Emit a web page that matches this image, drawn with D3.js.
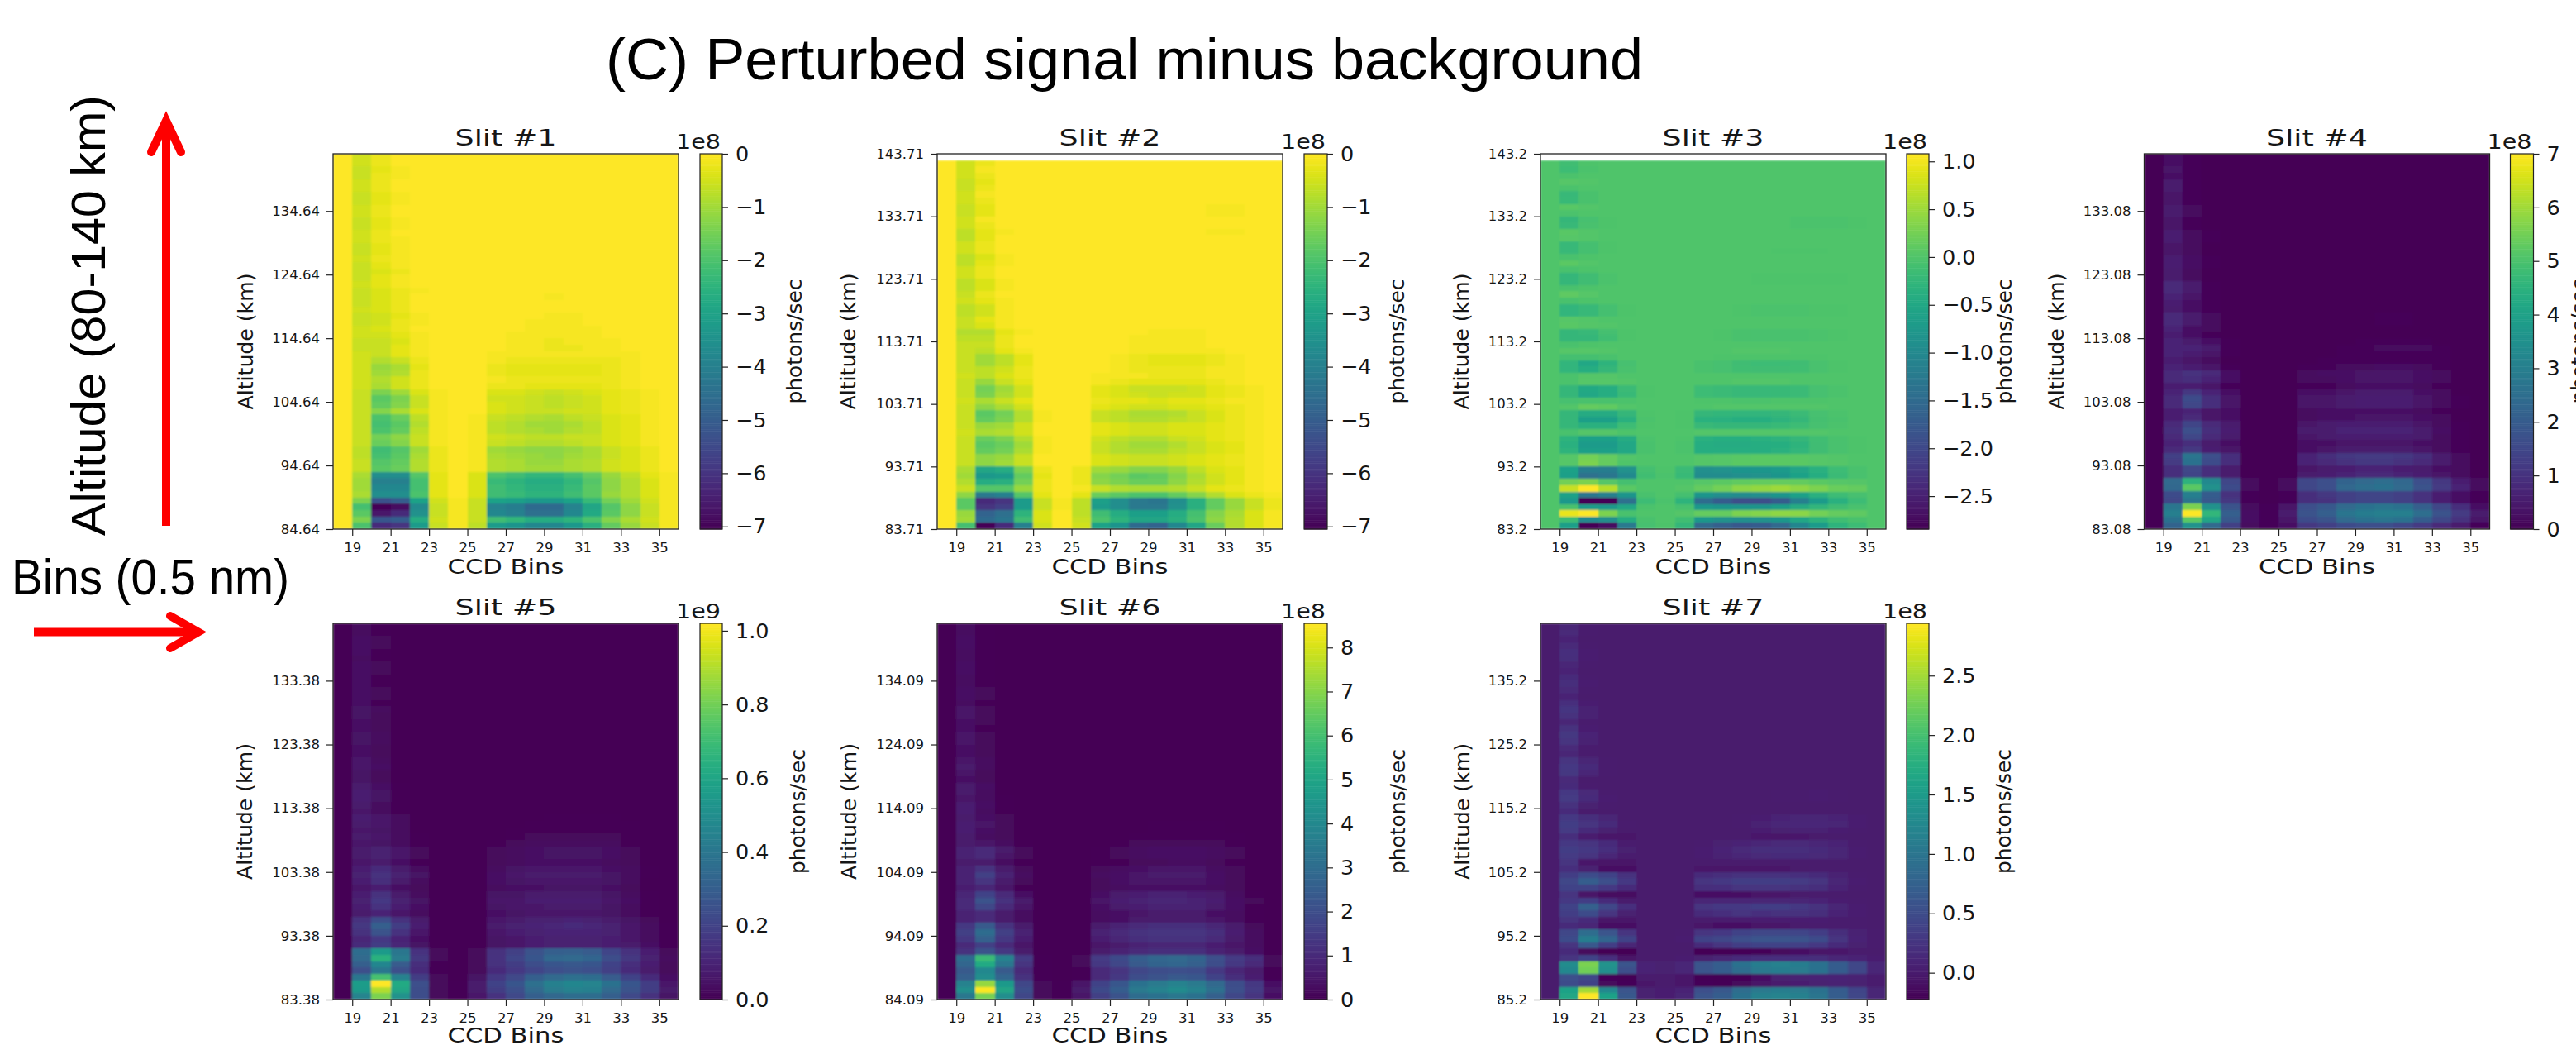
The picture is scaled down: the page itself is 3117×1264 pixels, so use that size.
<!DOCTYPE html>
<html>
<head>
<meta charset="utf-8">
<title>Perturbed signal minus background</title>
<script src="https://d3js.org/d3.v7.min.js"></script>
<style>
  body { margin: 0; background: #fff; }
  text { font-family: "DejaVu Sans", sans-serif; fill: #161616; }
</style>
</head>
<body>
<svg id="chart" width="3117" height="1264"></svg>
<script>

// CCD bins: one column per bin, left edge of each cell
let bins = d3.range(18, 36);
let binTicks = [19, 21, 23, 25, 27, 29, 31, 33, 35];

let slitTitles = ['Slit #1', 'Slit #2', 'Slit #3', 'Slit #4', 'Slit #5', 'Slit #6', 'Slit #7'];
let altitudeBottoms = [84.64, 83.71, 83.2, 83.08, 83.38, 84.09, 85.2];
let altitudeTops = [143.64, 143.71, 143.2, 142.08, 142.38, 143.09, 144.2];
let altitudeLabels = [
  ['84.64', '94.64', '104.64', '114.64', '124.64', '134.64'],
  ['83.71', '93.71', '103.71', '113.71', '123.71', '133.71', '143.71'],
  ['83.2', '93.2', '103.2', '113.2', '123.2', '133.2', '143.2'],
  ['83.08', '93.08', '103.08', '113.08', '123.08', '133.08'],
  ['83.38', '93.38', '103.38', '113.38', '123.38', '133.38'],
  ['84.09', '94.09', '104.09', '114.09', '124.09', '134.09'],
  ['85.2', '95.2', '105.2', '115.2', '125.2', '135.2']
];

// colorbar limits and ticks, in the unit printed over the bar
let colorMins = [-7.05, -7.05, -2.845, 0, 0, 0, -0.225];
let colorMaxs = [0, 0, 1.08, 7, 1.02, 8.55, 2.94];
let colorTicks = [
  [0, -1, -2, -3, -4, -5, -6, -7],
  [0, -1, -2, -3, -4, -5, -6, -7],
  [1, 0.5, 0, -0.5, -1, -1.5, -2, -2.5],
  [7, 6, 5, 4, 3, 2, 1, 0],
  [1, 0.8, 0.6, 0.4, 0.2, 0],
  [8, 7, 6, 5, 4, 3, 2, 1, 0],
  [2.5, 2, 1.5, 1, 0.5, 0]
];
let tickDigits = [0, 0, 1, 0, 1, 0, 1];
let colorExponents = ['1e8', '1e8', '1e8', '1e8', '1e9', '1e8', '1e8'];
// the rows below are stored in these fractions of the colorbar unit
let rowUnits = [0.1, 0.1, 0.01, 0.1, 0.01, 0.1, 0.01];

// rows run from the lowest altitude up, columns are bins 18..35
let slit1 = [
[0,-20,-62,-60,-32,-6,-1,-7,-32,-34,-38,-38,-33,-26,-17,-11,-6,-1],
[0,-14,-52,-50,-27,-5,-1,-6,-22,-24,-27,-27,-25,-20,-13,-9,-5,-1],
[0,-18,-66,-62,-35,-6,-1,-6,-38,-40,-45,-45,-38,-28,-18,-12,-6,-1],
[0,-21,-70,-68,-37,-6,-1,-6,-39,-41,-46,-46,-39,-29,-19,-12,-6,-1],
[0,-14,-53,-50,-30,-5,-1,-6,-30,-31,-33,-33,-30,-23,-15,-10,-5,-1],
[0,-9,-36,-36,-20,-3,0,-4,-22,-23,-25,-25,-22,-18,-11,-8,-4,-1],
[0,-10,-38,-38,-21,-3,0,-4,-22,-24,-26,-26,-23,-18,-12,-8,-4,-1],
[0,-10,-40,-40,-21,-3,0,-4,-23,-25,-27,-27,-24,-19,-12,-8,-4,-1],
[0,-9,-36,-36,-19,-3,0,-4,-20,-22,-24,-24,-21,-17,-11,-7,-3,-1],
[0,-6,-18,-16,-8,-2,0,-1,-8,-9,-10,-10,-9,-8,-5,-4,-2,0],
[0,-6,-19,-17,-8,-2,0,-1,-8,-9,-11,-11,-9,-8,-5,-4,-2,0],
[0,-7,-21,-18,-9,-2,0,-1,-9,-10,-11,-12,-10,-9,-6,-4,-2,0],
[0,-7,-22,-19,-10,-2,0,-1,-10,-11,-12,-12,-11,-9,-6,-4,-2,0],
[0,-6,-16,-13,-6,-1,0,-1,-6,-7,-8,-8,-7,-6,-4,-3,-1,0],
[0,-6,-15,-12,-6,-1,0,-1,-5,-6,-7,-7,-6,-6,-4,-3,-1,0],
[0,-6,-20,-17,-7,-1,0,-1,-7,-8,-9,-10,-8,-7,-4,-3,-1,0],
[0,-6,-21,-18,-8,-1,0,-1,-7,-8,-10,-10,-9,-7,-4,-3,-1,0],
[0,-6,-20,-16,-7,-1,0,-1,-6,-7,-8,-9,-7,-6,-4,-3,-1,0],
[0,-6,-13,-9,-4,-1,0,0,-4,-5,-6,-6,-5,-5,-3,-2,-1,0],
[0,-6,-17,-13,-6,-1,0,0,-4,-5,-6,-7,-6,-5,-3,-2,-1,0],
[0,-6,-18,-14,-6,-1,0,0,-5,-5,-6,-7,-6,-5,-3,-2,-1,0],
[0,-6,-14,-10,-4,-1,0,0,-4,-4,-5,-6,-5,-4,-3,-2,-1,0],
[0,-5,-9,-5,-2,0,0,0,-2,-2,-3,-3,-3,-3,-2,-1,0,0],
[0,-5,-8,-5,-2,0,0,0,-1,-2,-2,-2,-2,-2,-2,-1,0,0],
[0,-5,-10,-8,-2,0,0,0,-2,-3,-3,-3,-3,-3,-2,-1,0,0],
[0,-5,-11,-9,-3,0,0,0,-2,-3,-3,-3,-3,-3,-2,-1,0,0],
[0,-5,-8,-6,-2,0,0,0,-1,-2,-2,-2,-2,-2,-2,-1,0,0],
[0,-5,-6,-3,-1,0,0,0,-1,-1,-1,-1,-1,-1,-1,-1,0,0],
[0,-6,-6,-3,-1,0,0,0,0,-1,-1,-2,-2,-1,-1,0,0,0],
[0,-6,-6,-4,-1,0,0,0,0,-1,-1,-2,-1,-1,-1,0,0,0],
[0,-5,-5,-3,-1,0,0,0,0,-1,-1,-1,-1,-1,0,0,0,0],
[0,-5,-4,-2,0,0,0,0,0,0,-1,-1,-1,-1,0,0,0,0],
[0,-6,-5,-2,-1,0,0,0,0,0,-1,-1,-1,0,0,0,0,0],
[0,-6,-5,-3,-1,0,0,0,0,0,0,-1,-1,0,0,0,0,0],
[0,-5,-4,-2,0,0,0,0,0,0,0,0,0,0,0,0,0,0],
[0,-6,-4,-2,0,0,0,0,0,0,0,0,0,0,0,0,0,0],
[0,-6,-4,-2,0,0,0,0,0,0,0,-1,0,0,0,0,0,0],
[0,-6,-4,-2,-1,0,0,0,0,0,0,0,0,0,0,0,0,0],
[0,-5,-3,-1,0,0,0,0,0,0,0,0,0,0,0,0,0,0],
[0,-6,-3,-1,0,0,0,0,0,0,0,0,0,0,0,0,0,0],
[0,-6,-4,-2,0,0,0,0,0,0,0,0,0,0,0,0,0,0],
[0,-6,-3,-1,0,0,0,0,0,0,0,0,0,0,0,0,0,0],
[0,-5,-2,-1,0,0,0,0,0,0,0,0,0,0,0,0,0,0],
[0,-6,-3,-1,0,0,0,0,0,0,0,0,0,0,0,0,0,0],
[0,-6,-3,-1,0,0,0,0,0,0,0,0,0,0,0,0,0,0],
[0,-5,-2,-1,0,0,0,0,0,0,0,0,0,0,0,0,0,0],
[0,-5,-2,0,0,0,0,0,0,0,0,0,0,0,0,0,0,0],
[0,-6,-3,-1,0,0,0,0,0,0,0,0,0,0,0,0,0,0],
[0,-6,-3,-1,0,0,0,0,0,0,0,0,0,0,0,0,0,0],
[0,-5,-2,0,0,0,0,0,0,0,0,0,0,0,0,0,0,0],
[0,-5,-2,0,0,0,0,0,0,0,0,0,0,0,0,0,0,0],
[0,-6,-3,-1,0,0,0,0,0,0,0,0,0,0,0,0,0,0],
[0,-6,-3,-1,0,0,0,0,0,0,0,0,0,0,0,0,0,0],
[0,-5,-2,0,0,0,0,0,0,0,0,0,0,0,0,0,0,0],
[0,-5,-2,0,0,0,0,0,0,0,0,0,0,0,0,0,0,0],
[0,-6,-2,-1,0,0,0,0,0,0,0,0,0,0,0,0,0,0],
[0,-6,-3,-1,0,0,0,0,0,0,0,0,0,0,0,0,0,0],
[0,-5,-2,0,0,0,0,0,0,0,0,0,0,0,0,0,0,0],
[0,-5,-2,0,0,0,0,0,0,0,0,0,0,0,0,0,0,0]
];

let slit2 = [
[0,-21,-70,-62,-40,-5,0,-5,-30,-34,-46,-48,-38,-29,-16,-8,-4,-1],
[0,-10,-46,-43,-22,-4,0,-6,-20,-25,-29,-29,-26,-20,-12,-8,-4,-1],
[0,-11,-48,-45,-25,-4,0,-7,-22,-27,-31,-31,-27,-21,-13,-9,-4,-1],
[0,-18,-60,-57,-32,-6,-1,-7,-32,-36,-42,-42,-35,-26,-17,-11,-6,-2],
[0,-18,-62,-60,-32,-6,-1,-7,-31,-36,-42,-43,-36,-26,-17,-11,-6,-2],
[0,-12,-42,-40,-19,-3,0,-3,-16,-18,-20,-20,-17,-13,-8,-4,-2,-1],
[0,-6,-19,-19,-11,-2,0,-1,-6,-8,-9,-9,-8,-6,-3,-2,-1,0],
[0,-8,-27,-26,-15,-2,0,-2,-12,-14,-16,-16,-12,-8,-5,-3,-1,0],
[0,-10,-33,-32,-17,-3,0,-2,-13,-15,-18,-17,-13,-9,-5,-3,-1,0],
[0,-9,-29,-27,-14,-2,0,-2,-10,-11,-13,-13,-11,-7,-4,-3,-1,0],
[0,-6,-12,-10,-6,0,0,0,-4,-5,-6,-6,-5,-4,-3,-2,-1,0],
[0,-6,-12,-11,-6,0,0,0,-4,-5,-6,-6,-5,-4,-3,-2,-1,0],
[0,-6,-17,-15,-9,-1,0,0,-6,-8,-9,-9,-7,-6,-4,-3,-1,0],
[0,-6,-18,-16,-10,-1,0,0,-6,-8,-10,-10,-8,-6,-4,-3,-1,0],
[0,-6,-16,-14,-8,-1,0,0,-5,-7,-8,-8,-6,-5,-3,-2,-1,0],
[0,-5,-9,-8,-5,0,0,0,-3,-4,-5,-5,-4,-4,-3,-2,-1,0],
[0,-6,-11,-10,-5,0,0,0,-3,-4,-5,-5,-4,-4,-3,-2,-1,0],
[0,-6,-17,-14,-8,-1,0,0,-6,-7,-8,-8,-7,-6,-4,-2,-1,0],
[0,-6,-18,-15,-8,-1,0,0,-6,-7,-9,-9,-8,-6,-4,-2,-1,0],
[0,-6,-12,-9,-5,0,0,0,-3,-4,-5,-5,-4,-4,-3,-2,-1,0],
[0,-5,-9,-6,-3,0,0,0,-2,-3,-3,-4,-3,-3,-2,-1,-1,0],
[0,-6,-14,-9,-5,0,0,0,-3,-4,-5,-6,-5,-5,-3,-2,-1,0],
[0,-6,-15,-10,-5,0,0,0,-3,-4,-6,-6,-6,-5,-3,-2,-1,0],
[0,-6,-11,-6,-3,0,0,0,-1,-2,-3,-3,-3,-3,-2,-1,0,0],
[0,-5,-7,-4,-2,0,0,0,-1,-1,-1,-2,-2,-2,-1,-1,0,0],
[0,-6,-7,-5,-2,0,0,0,0,-1,-2,-2,-2,-2,-1,-1,0,0],
[0,-6,-10,-7,-3,0,0,0,0,-1,-2,-3,-3,-3,-2,-1,0,0],
[0,-6,-10,-7,-3,0,0,0,0,-1,-2,-3,-3,-3,-2,-1,0,0],
[0,-6,-7,-3,-1,0,0,0,0,0,-1,-1,-1,-1,-1,0,0,0],
[0,-6,-6,-2,0,0,0,0,0,0,-1,-1,-1,-1,0,0,0,0],
[0,-7,-7,-2,0,0,0,0,0,0,-1,-1,-1,-1,0,0,0,0],
[0,-8,-8,-3,-1,0,0,0,0,0,0,-1,-1,-1,0,0,0,0],
[0,-6,-4,-1,0,0,0,0,0,0,0,0,0,0,0,0,0,0],
[0,-6,-3,-1,0,0,0,0,0,0,0,0,0,0,0,0,0,0],
[0,-7,-5,-1,0,0,0,0,0,0,0,0,0,0,0,0,0,0],
[0,-7,-5,-1,0,0,0,0,0,0,0,0,0,0,0,0,0,0],
[0,-5,-3,-1,0,0,0,0,0,0,0,0,0,0,0,0,0,0],
[0,-6,-2,0,0,0,0,0,0,0,0,0,0,0,0,0,0,0],
[0,-7,-4,-1,0,0,0,0,0,0,0,0,0,0,0,0,0,0],
[0,-7,-4,-1,0,0,0,0,0,0,0,0,0,0,0,0,0,0],
[0,-5,-2,0,0,0,0,0,0,0,0,0,0,0,0,0,0,0],
[0,-5,-2,0,0,0,0,0,0,0,0,0,0,0,0,0,0,0],
[0,-7,-3,-1,0,0,0,0,0,0,0,0,0,0,0,0,0,0],
[0,-7,-4,-1,0,0,0,0,0,0,0,0,0,0,0,0,0,0],
[0,-5,-2,0,0,0,0,0,0,0,0,0,0,0,0,0,0,0],
[0,-5,-2,0,0,0,0,0,0,0,0,0,0,0,0,0,0,0],
[0,-7,-3,0,0,0,0,0,0,0,0,0,0,0,0,0,0,0],
[0,-7,-3,-1,0,0,0,0,0,0,0,0,0,0,-1,-1,0,0],
[0,-5,-2,0,0,0,0,0,0,0,0,0,0,0,0,0,0,0],
[0,-5,-1,0,0,0,0,0,0,0,0,0,0,0,0,0,0,0],
[0,-6,-3,0,0,0,0,0,0,0,0,0,0,0,-1,-1,0,0],
[0,-6,-3,0,0,0,0,0,0,0,0,0,0,0,-1,-1,0,0],
[0,-5,-2,0,0,0,0,0,0,0,0,0,0,0,0,0,0,0],
[0,-5,-1,0,0,0,0,0,0,0,0,0,0,0,0,0,0,0],
[0,-6,-2,0,0,0,0,0,0,0,0,0,0,0,0,0,0,0],
[0,-6,-3,0,0,0,0,0,0,0,0,0,0,0,0,0,0,0],
[0,-5,-2,0,0,0,0,0,0,0,0,0,0,0,0,0,0,0],
[0,-5,-1,0,0,0,0,0,0,0,0,0,0,0,0,0,0,0],
[0,-5,-2,0,0,0,0,0,0,0,0,0,0,0,0,0,0,0]
];

let slit3 = [
[0,-65,-285,-270,-125,-8,-2,-25,-150,-165,-178,-172,-150,-105,-70,-30,-15,0],
[0,-15,-100,-90,-40,-4,0,-12,-75,-85,-90,-85,-75,-50,-30,-12,-5,0],
[0,95,108,30,-5,0,0,3,15,15,30,35,42,40,25,15,10,0],
[0,-5,-70,-75,-50,-3,0,-8,-75,-80,-80,-80,-65,-45,-28,-14,-6,0],
[0,-75,-280,-280,-140,-15,-3,-30,-145,-170,-190,-190,-170,-115,-70,-35,-15,0],
[0,-60,-130,-115,-80,-5,0,-10,-80,-90,-95,-90,-80,-60,-35,-15,-8,0],
[0,75,108,65,8,0,0,3,15,25,40,45,50,42,30,18,15,0],
[0,25,30,5,-10,0,0,0,5,8,12,14,15,14,8,5,3,0],
[0,-65,-140,-130,-100,-12,-3,-20,-95,-95,-90,-85,-80,-60,-40,-18,-6,0],
[0,-60,-120,-120,-85,-10,-2,-18,-90,-85,-82,-78,-72,-55,-35,-15,-5,0],
[0,5,30,15,0,0,0,0,3,5,7,8,8,7,5,3,0,0],
[0,5,25,15,2,0,0,0,3,4,6,7,7,6,4,2,0,0],
[0,-30,-65,-65,-50,-4,0,-3,-40,-42,-42,-40,-36,-28,-14,-6,-2,0],
[0,-35,-70,-70,-50,-4,0,-3,-42,-45,-44,-42,-38,-30,-14,-6,-2,0],
[0,-30,-60,-60,-45,-3,0,-2,-36,-38,-38,-36,-32,-25,-12,-5,-1,0],
[0,-5,3,3,-2,0,0,0,1,2,2,2,2,2,1,0,0,0],
[0,-25,-35,-35,-15,-2,0,-1,-22,-24,-24,-24,-20,-16,-8,-3,0,0],
[0,-25,-65,-65,-35,-3,0,-1,-34,-36,-38,-38,-32,-24,-10,-4,0,0],
[0,-25,-45,-45,-25,-2,0,-1,-25,-26,-28,-28,-24,-18,-8,-3,0,0],
[0,2,15,12,2,0,0,0,0,1,2,2,2,1,1,0,0,0],
[0,-8,-5,-5,-3,0,0,0,-2,-2,-3,-3,-2,-2,-1,0,0,0],
[0,-25,-50,-42,-20,-1,0,0,-16,-18,-22,-22,-20,-18,-8,-3,0,0],
[0,-25,-48,-42,-18,-1,0,0,-16,-18,-22,-22,-20,-18,-8,-3,0,0],
[0,-3,5,5,1,0,0,0,0,0,1,1,1,0,0,0,0,0],
[0,-3,3,3,0,0,0,0,0,0,0,0,0,0,0,0,0,0],
[0,-28,-42,-25,-6,0,0,0,-4,-8,-12,-14,-14,-12,-6,-2,0,0],
[0,-28,-50,-30,-8,0,0,0,-4,-8,-14,-16,-16,-14,-6,-2,0,0],
[0,-10,-10,-5,0,0,0,0,0,-1,-2,-2,-2,-2,-1,0,0,0],
[0,4,5,2,0,0,0,0,0,0,1,1,1,0,0,0,0,0],
[0,-5,-2,0,0,0,0,0,0,0,0,0,0,0,0,0,0,0],
[0,-24,-25,-12,-2,0,0,0,0,-2,-4,-6,-6,-5,-3,-1,0,0],
[0,-24,-22,-10,-1,0,0,0,0,-2,-4,-6,-6,-5,-3,-1,0,0],
[0,6,3,1,0,0,0,0,0,0,0,0,0,0,0,0,0,0],
[0,4,2,0,0,0,0,0,0,0,0,0,0,0,0,0,0,0],
[0,-28,-22,-10,-1,0,0,0,0,0,-2,-3,-3,-3,-2,-1,0,0],
[0,-28,-22,-10,-1,0,0,0,0,0,-2,-3,-3,-3,-2,-1,0,0],
[0,-5,-2,0,0,0,0,0,0,0,0,0,0,0,0,0,0,0],
[0,10,4,0,0,0,0,0,0,0,0,0,0,0,0,0,0,0],
[0,-5,-2,0,0,0,0,0,0,0,0,0,0,0,0,0,0,0],
[0,-25,-14,-3,0,0,0,0,0,0,0,-2,-2,-2,-2,-1,0,0],
[0,-25,-14,-3,0,0,0,0,0,0,0,-2,-2,-2,-2,-1,0,0],
[0,-4,-1,0,0,0,0,0,0,0,0,0,0,0,0,0,0,0],
[0,8,2,0,0,0,0,0,0,0,0,0,0,0,0,0,0,0],
[0,-5,-2,0,0,0,0,0,0,0,0,0,0,0,0,0,0,0],
[0,-22,-10,-2,0,0,0,0,0,0,0,0,-1,-1,-1,0,0,0],
[0,-22,-9,-2,0,0,0,0,0,0,0,0,0,0,0,0,0,0],
[0,5,1,0,0,0,0,0,0,0,0,0,0,0,0,0,0,0],
[0,6,2,0,0,0,0,0,0,0,0,0,0,0,0,0,0,0],
[0,-22,-6,-1,0,0,0,0,0,0,0,0,0,-3,-3,-3,-1,0],
[0,-24,-7,-1,0,0,0,0,0,0,0,0,0,-3,-3,-3,-1,0],
[0,-3,0,0,0,0,0,0,0,0,0,0,0,0,0,0,0,0],
[0,6,1,0,0,0,0,0,0,0,0,0,0,0,0,0,0,0],
[0,-20,-5,0,0,0,0,0,0,0,0,0,0,0,0,0,0,0],
[0,-22,-5,0,0,0,0,0,0,0,0,0,0,0,0,0,0,0],
[0,-3,0,0,0,0,0,0,0,0,0,0,0,0,0,0,0,0],
[0,5,1,0,0,0,0,0,0,0,0,0,0,0,0,0,0,0],
[0,-3,0,0,0,0,0,0,0,0,0,0,0,0,0,0,0,0],
[0,-15,-3,0,0,0,0,0,0,0,0,0,0,0,0,0,0,0],
[0,-12,-2,0,0,0,0,0,0,0,0,0,0,0,0,0,0,0]
];

let slit4 = [
[0,22,36,24,13,2,1,3,11,13,16,17,17,15,12,8,5,1],
[0,26,52,41,19,3,1,4,16,18,24,26,27,26,20,15,10,4],
[0,30,70,46,21,3,1,5,18,21,27,29,30,30,25,18,12,5],
[0,27,56,35,18,2,1,4,17,19,24,26,27,26,21,15,9,3],
[0,15,27,19,11,1,0,1,9,10,13,14,14,13,10,6,3,1],
[0,16,30,20,10,1,0,1,9,11,13,14,14,13,10,6,3,1],
[0,23,52,35,16,2,0,2,15,17,23,25,26,24,18,12,7,2],
[0,24,45,33,15,2,0,2,15,17,22,24,25,23,17,11,6,2],
[0,9,14,9,5,0,0,0,5,6,7,8,8,7,6,4,2,0],
[0,9,15,9,5,0,0,0,4,5,6,7,7,6,5,3,2,0],
[0,12,26,16,9,0,0,0,7,8,10,11,11,10,8,5,2,0],
[0,13,27,17,9,0,0,0,7,9,11,12,12,11,9,5,2,0],
[0,8,11,6,4,0,0,0,3,4,5,5,5,5,4,2,1,0],
[0,7,9,5,3,0,0,0,3,3,4,4,4,4,3,2,1,0],
[0,8,15,8,5,0,0,0,4,5,6,6,6,6,5,2,1,0],
[0,9,17,9,6,0,0,0,5,5,7,7,7,7,5,3,1,0],
[0,8,14,8,5,0,0,0,4,5,6,6,6,6,4,2,1,0],
[0,6,8,4,3,0,0,0,2,3,3,4,4,4,3,2,0,0],
[0,6,7,4,3,0,0,0,2,3,3,3,3,3,2,1,0,0],
[0,8,15,9,4,0,0,0,4,4,5,6,6,6,4,2,1,0],
[0,8,16,9,4,0,0,0,4,4,5,6,6,6,4,2,1,0],
[0,7,11,7,3,0,0,0,3,3,4,5,5,5,3,2,0,0],
[0,6,6,4,1,0,0,0,1,1,2,3,3,3,2,1,0,0],
[0,8,9,7,3,0,0,0,2,2,3,4,4,4,3,2,0,0],
[0,8,10,8,3,0,0,0,2,3,3,4,4,4,3,2,0,0],
[0,7,6,4,1,0,0,0,1,1,2,2,3,3,2,1,0,0],
[0,6,4,2,0,0,0,0,0,1,1,1,1,1,1,1,0,0],
[0,7,6,4,1,0,0,0,0,0,1,1,1,1,1,1,0,0],
[0,7,7,5,1,0,0,0,0,0,1,1,2,2,2,1,0,0],
[0,7,5,3,1,0,0,0,0,0,0,1,1,1,1,0,0,0],
[0,6,3,1,0,0,0,0,0,0,0,0,0,0,0,0,0,0],
[0,7,3,2,0,0,0,0,0,0,0,0,0,0,0,0,0,0],
[0,8,5,2,0,0,0,0,0,0,0,0,1,1,0,0,0,0],
[0,8,5,2,0,0,0,0,0,0,0,0,1,1,0,0,0,0],
[0,5,3,1,0,0,0,0,0,0,0,0,0,0,0,0,0,0],
[0,6,3,1,0,0,0,0,0,0,0,0,0,0,0,0,0,0],
[0,7,4,1,0,0,0,0,0,0,0,0,0,0,0,0,0,0],
[0,8,5,1,0,0,0,0,0,0,0,0,0,0,0,0,0,0],
[0,8,5,1,0,0,0,0,0,0,0,0,0,0,0,0,0,0],
[0,5,2,0,0,0,0,0,0,0,0,0,0,0,0,0,0,0],
[0,5,2,0,0,0,0,0,0,0,0,0,0,0,0,0,0,0],
[0,6,3,1,0,0,0,0,0,0,0,0,0,0,0,0,0,0],
[0,6,3,1,0,0,0,0,0,0,0,0,0,0,0,0,0,0],
[0,4,2,0,0,0,0,0,0,0,0,0,0,0,0,0,0,0],
[0,4,2,0,0,0,0,0,0,0,0,0,0,0,0,0,0,0],
[0,6,2,1,0,0,0,0,0,0,0,0,0,0,0,0,0,0],
[0,6,2,1,0,0,0,0,0,0,0,0,0,0,0,0,0,0],
[0,4,1,0,0,0,0,0,0,0,0,0,0,0,0,0,0,0],
[0,4,1,0,0,0,0,0,0,0,0,0,0,0,0,0,0,0],
[0,5,2,0,0,0,0,0,0,0,0,0,0,0,0,0,0,0],
[0,5,2,0,0,0,0,0,0,0,0,0,0,0,0,0,0,0],
[0,4,1,0,0,0,0,0,0,0,0,0,0,0,0,0,0,0],
[0,4,1,0,0,0,0,0,0,0,0,0,0,0,0,0,0,0],
[0,5,1,0,0,0,0,0,0,0,0,0,0,0,0,0,0,0],
[0,5,1,0,0,0,0,0,0,0,0,0,0,0,0,0,0,0],
[0,3,1,0,0,0,0,0,0,0,0,0,0,0,0,0,0,0],
[0,4,1,0,0,0,0,0,0,0,0,0,0,0,0,0,0,0],
[0,3,1,0,0,0,0,0,0,0,0,0,0,0,0,0,0,0],
[0,3,1,0,0,0,0,0,0,0,0,0,0,0,0,0,0,0]
];

let slit5 = [
[0,46,82,52,24,2,1,6,15,22,30,34,36,36,30,22,14,5],
[0,55,90,60,24,2,1,7,18,25,35,42,45,44,35,26,18,7],
[0,56,102,62,25,2,1,7,20,27,37,44,47,46,38,27,18,6],
[0,40,72,45,18,2,0,5,17,22,30,35,37,36,29,20,12,4],
[0,25,40,25,12,1,0,2,12,17,21,25,26,25,19,12,7,2],
[0,30,47,29,13,1,0,2,14,18,24,27,28,27,20,13,8,2],
[0,35,65,42,16,2,0,2,15,21,27,34,35,33,24,16,9,3],
[0,36,55,40,15,2,0,2,14,19,26,30,31,29,21,14,8,2],
[0,12,18,11,5,0,0,0,5,6,8,9,9,9,8,7,4,1],
[0,11,17,10,4,0,0,0,5,6,8,9,9,9,8,6,3,1],
[0,14,26,15,6,0,0,0,6,8,9,10,10,10,9,6,3,1],
[0,16,30,18,8,0,0,0,7,9,10,11,12,11,9,6,3,1],
[0,14,24,14,7,0,0,0,6,7,9,9,10,9,7,5,2,0],
[0,7,10,6,3,0,0,0,4,5,6,6,6,6,5,3,1,0],
[0,8,15,8,4,0,0,0,5,6,6,7,7,7,5,3,1,0],
[0,9,17,9,5,0,0,0,6,6,8,8,8,8,6,4,1,0],
[0,8,14,7,3,0,0,0,5,5,7,7,7,7,5,3,1,0],
[0,6,8,4,2,0,0,0,3,4,4,5,5,5,4,2,0,0],
[0,8,13,7,3,0,0,0,4,5,6,6,6,6,5,3,0,0],
[0,9,14,9,5,0,0,0,4,6,7,7,7,7,5,3,1,0],
[0,8,12,7,3,0,0,0,3,5,6,6,6,6,4,3,1,0],
[0,6,7,4,1,0,0,0,2,3,4,4,4,4,3,2,0,0],
[0,7,9,6,2,0,0,0,2,3,4,5,5,5,4,2,0,0],
[0,7,9,6,2,0,0,0,2,3,4,5,5,5,4,2,0,0],
[0,6,5,3,1,0,0,0,1,2,3,3,3,3,3,1,0,0],
[0,7,6,3,1,0,0,0,0,1,2,2,2,2,2,1,0,0],
[0,6,5,3,0,0,0,0,0,1,1,1,1,1,1,1,0,0],
[0,7,6,3,0,0,0,0,0,0,1,1,1,1,1,1,0,0],
[0,8,6,3,0,0,0,0,0,0,0,1,1,1,1,0,0,0],
[0,6,3,1,0,0,0,0,0,0,0,0,0,0,0,0,0,0],
[0,7,3,1,0,0,0,0,0,0,0,0,0,0,0,0,0,0],
[0,8,5,1,0,0,0,0,0,0,0,0,0,0,0,0,0,0],
[0,8,5,1,0,0,0,0,0,0,0,0,0,0,0,0,0,0],
[0,7,4,1,0,0,0,0,0,0,0,0,0,0,0,0,0,0],
[0,5,2,0,0,0,0,0,0,0,0,0,0,0,0,0,0,0],
[0,5,2,0,0,0,0,0,0,0,0,0,0,0,0,0,0,0],
[0,6,4,0,0,0,0,0,0,0,0,0,0,0,0,0,0,0],
[0,6,3,0,0,0,0,0,0,0,0,0,0,0,0,0,0,0],
[0,4,2,0,0,0,0,0,0,0,0,0,0,0,0,0,0,0],
[0,4,2,0,0,0,0,0,0,0,0,0,0,0,0,0,0,0],
[0,5,3,0,0,0,0,0,0,0,0,0,0,0,0,0,0,0],
[0,5,3,0,0,0,0,0,0,0,0,0,0,0,0,0,0,0],
[0,4,2,0,0,0,0,0,0,0,0,0,0,0,0,0,0,0],
[0,4,2,0,0,0,0,0,0,0,0,0,0,0,0,0,0,0],
[0,5,2,0,0,0,0,0,0,0,0,0,0,0,0,0,0,0],
[0,5,3,0,0,0,0,0,0,0,0,0,0,0,0,0,0,0],
[0,4,1,0,0,0,0,0,0,0,0,0,0,0,0,0,0,0],
[0,4,2,0,0,0,0,0,0,0,0,0,0,0,0,0,0,0],
[0,4,2,0,0,0,0,0,0,0,0,0,0,0,0,0,0,0],
[0,4,1,0,0,0,0,0,0,0,0,0,0,0,0,0,0,0],
[0,4,1,0,0,0,0,0,0,0,0,0,0,0,0,0,0,0],
[0,4,2,0,0,0,0,0,0,0,0,0,0,0,0,0,0,0],
[0,4,2,0,0,0,0,0,0,0,0,0,0,0,0,0,0,0],
[0,3,1,0,0,0,0,0,0,0,0,0,0,0,0,0,0,0],
[0,4,1,0,0,0,0,0,0,0,0,0,0,0,0,0,0,0],
[0,4,2,0,0,0,0,0,0,0,0,0,0,0,0,0,0,0],
[0,4,2,0,0,0,0,0,0,0,0,0,0,0,0,0,0,0],
[0,3,1,0,0,0,0,0,0,0,0,0,0,0,0,0,0,0],
[0,3,1,0,0,0,0,0,0,0,0,0,0,0,0,0,0,0]
];

let slit6 = [
[0,34,68,42,18,2,1,5,16,22,30,32,34,32,26,18,13,4],
[0,42,85,50,20,2,1,6,19,25,35,38,41,38,31,21,15,5],
[0,38,72,46,18,2,1,5,17,23,32,35,38,35,29,20,14,4],
[0,26,42,28,12,1,0,1,10,14,20,22,24,23,17,11,7,1],
[0,24,40,24,10,1,0,1,10,13,18,20,21,20,14,9,6,1],
[0,28,52,34,13,1,0,2,14,18,24,27,28,26,20,14,10,2],
[0,30,58,38,15,1,0,2,15,19,25,28,29,27,21,15,11,2],
[0,12,22,14,6,0,0,0,6,8,10,11,11,11,8,6,4,0],
[0,10,16,10,5,0,0,0,5,6,8,9,9,9,7,5,3,0],
[0,14,26,14,7,0,0,0,7,9,11,12,12,12,10,6,3,0],
[0,16,30,16,8,0,0,0,8,10,12,13,13,13,11,7,3,0],
[0,14,24,12,6,0,0,0,6,8,10,11,11,11,9,6,2,0],
[0,8,10,6,3,0,0,0,3,4,6,6,6,6,5,3,1,0],
[0,8,10,6,3,0,0,0,3,4,5,6,6,6,4,3,1,0],
[0,10,18,10,5,0,0,0,4,6,7,8,8,8,6,4,1,0],
[0,10,22,12,6,0,0,0,5,7,8,9,9,8,7,4,2,0],
[0,9,17,10,4,0,0,0,4,6,7,8,8,7,6,3,1,0],
[0,7,9,5,1,0,0,0,2,3,4,4,4,4,3,2,0,0],
[0,8,13,6,2,0,0,0,2,4,5,5,5,5,4,2,0,0],
[0,8,16,8,3,0,0,0,3,4,5,6,6,6,4,2,0,0],
[0,8,12,6,2,0,0,0,2,3,4,5,5,5,3,2,0,0],
[0,6,6,3,1,0,0,0,1,1,2,2,3,3,2,1,0,0],
[0,8,10,5,2,0,0,0,1,2,3,4,4,4,3,2,0,0],
[0,8,10,6,2,0,0,0,1,2,3,4,4,4,3,2,0,0],
[0,6,5,3,1,0,0,0,0,1,2,2,2,2,2,1,0,0],
[0,6,3,2,0,0,0,0,0,0,1,1,1,1,1,1,0,0],
[0,7,4,2,0,0,0,0,0,0,0,1,1,1,1,0,0,0],
[0,7,5,2,0,0,0,0,0,0,0,1,1,1,1,0,0,0],
[0,6,4,2,0,0,0,0,0,0,0,0,0,0,0,0,0,0],
[0,7,3,1,0,0,0,0,0,0,0,0,0,0,0,0,0,0],
[0,7,4,1,0,0,0,0,0,0,0,0,0,0,0,0,0,0],
[0,5,3,1,0,0,0,0,0,0,0,0,0,0,0,0,0,0],
[0,6,3,0,0,0,0,0,0,0,0,0,0,0,0,0,0,0],
[0,6,4,0,0,0,0,0,0,0,0,0,0,0,0,0,0,0],
[0,4,2,0,0,0,0,0,0,0,0,0,0,0,0,0,0,0],
[0,5,2,0,0,0,0,0,0,0,0,0,0,0,0,0,0,0],
[0,6,3,0,0,0,0,0,0,0,0,0,0,0,0,0,0,0],
[0,5,3,0,0,0,0,0,0,0,0,0,0,0,0,0,0,0],
[0,4,2,0,0,0,0,0,0,0,0,0,0,0,0,0,0,0],
[0,4,2,0,0,0,0,0,0,0,0,0,0,0,0,0,0,0],
[0,5,2,0,0,0,0,0,0,0,0,0,0,0,0,0,0,0],
[0,5,2,0,0,0,0,0,0,0,0,0,0,0,0,0,0,0],
[0,4,1,0,0,0,0,0,0,0,0,0,0,0,0,0,0,0],
[0,4,2,0,0,0,0,0,0,0,0,0,0,0,0,0,0,0],
[0,5,2,0,0,0,0,0,0,0,0,0,0,0,0,0,0,0],
[0,5,2,0,0,0,0,0,0,0,0,0,0,0,0,0,0,0],
[0,3,1,0,0,0,0,0,0,0,0,0,0,0,0,0,0,0],
[0,4,2,0,0,0,0,0,0,0,0,0,0,0,0,0,0,0],
[0,4,2,0,0,0,0,0,0,0,0,0,0,0,0,0,0,0],
[0,3,1,0,0,0,0,0,0,0,0,0,0,0,0,0,0,0],
[0,3,1,0,0,0,0,0,0,0,0,0,0,0,0,0,0,0],
[0,4,1,0,0,0,0,0,0,0,0,0,0,0,0,0,0,0],
[0,4,1,0,0,0,0,0,0,0,0,0,0,0,0,0,0,0],
[0,3,1,0,0,0,0,0,0,0,0,0,0,0,0,0,0,0],
[0,3,1,0,0,0,0,0,0,0,0,0,0,0,0,0,0,0],
[0,4,1,0,0,0,0,0,0,0,0,0,0,0,0,0,0,0],
[0,4,1,0,0,0,0,0,0,0,0,0,0,0,0,0,0,0],
[0,3,1,0,0,0,0,0,0,0,0,0,0,0,0,0,0,0],
[0,3,1,0,0,0,0,0,0,0,0,0,0,0,0,0,0,0]
];

let slit7 = [
[0,165,294,160,65,5,3,10,60,70,95,115,120,115,100,70,45,10],
[0,160,250,125,60,5,3,8,55,65,90,105,110,108,95,68,42,10],
[0,50,40,-15,-18,-3,0,-3,-18,-20,-15,-5,0,3,5,6,5,2],
[0,55,45,-18,-20,0,0,-3,-20,-22,-20,-8,5,7,8,8,6,2],
[0,125,225,135,55,8,5,12,60,70,90,105,110,108,95,68,45,12],
[0,130,230,140,60,8,5,12,60,70,95,110,115,110,95,68,45,12],
[0,25,40,20,-5,0,0,3,5,10,15,18,20,20,18,12,8,3],
[0,15,-15,-22,-22,0,0,0,-22,-22,-20,-18,-15,-10,-5,-3,0,0],
[0,25,65,35,10,0,0,0,15,25,35,40,40,38,30,15,5,1],
[0,50,110,80,40,0,0,3,40,45,55,60,60,58,50,25,8,2],
[0,45,90,60,25,0,0,2,25,30,40,45,45,42,35,18,6,1],
[0,15,10,-10,-10,0,0,0,-5,-8,-8,-5,-3,0,2,2,1,0],
[0,25,15,-5,-3,0,0,0,0,1,2,3,3,3,3,2,1,0],
[0,35,50,25,5,0,0,0,15,20,25,20,22,22,18,8,3,0],
[0,40,75,45,20,0,0,0,25,30,30,35,35,30,22,10,3,0],
[0,30,35,15,0,0,0,0,10,10,10,10,10,10,8,4,2,0],
[0,25,-5,-12,-12,0,0,0,-8,-10,-10,-5,-3,-1,0,0,0,0],
[0,40,40,30,15,0,0,0,18,20,25,25,25,22,18,8,2,0],
[0,45,70,55,30,0,0,0,25,30,35,35,35,32,25,10,3,0],
[0,35,50,40,22,0,0,0,15,18,22,22,22,20,15,6,2,0],
[0,20,5,-8,-8,0,0,0,-3,-5,-5,-3,-3,-1,0,0,0,0],
[0,25,-2,-5,-5,0,0,0,0,0,0,0,0,0,0,0,0,0],
[0,32,25,12,2,0,0,0,3,6,12,14,15,15,14,10,3,0],
[0,35,30,20,5,0,0,0,4,8,14,18,18,18,15,10,3,0],
[0,30,25,15,2,0,0,0,2,5,8,12,14,14,12,8,2,0],
[0,18,2,-3,-3,0,0,0,0,0,0,-2,-3,-2,-1,0,0,0],
[0,32,15,5,0,0,0,0,0,0,0,3,5,6,6,4,1,0],
[0,35,25,15,1,0,0,0,0,0,2,7,12,13,13,10,4,0],
[0,30,18,10,0,0,0,0,0,0,1,4,8,10,10,8,3,0],
[0,15,0,0,0,0,0,0,0,0,0,0,0,0,0,0,0,0],
[0,22,5,1,0,0,0,0,0,0,0,0,0,0,0,0,0,0],
[0,32,15,3,0,0,0,0,0,0,0,0,1,2,3,2,0,0],
[0,30,14,2,0,0,0,0,0,0,0,0,1,2,3,2,0,0],
[0,15,1,0,0,0,0,0,0,0,0,0,0,0,0,0,0,0],
[0,14,0,0,0,0,0,0,0,0,0,0,0,0,0,0,0,0],
[0,28,12,1,0,0,0,0,0,0,0,0,0,0,0,0,0,0],
[0,30,15,2,0,0,0,0,0,0,0,0,0,0,0,0,0,0],
[0,25,10,1,0,0,0,0,0,0,0,0,0,0,0,0,0,0],
[0,10,1,0,0,0,0,0,0,0,0,0,0,0,0,0,0,0],
[0,14,2,0,0,0,0,0,0,0,0,0,0,0,0,0,0,0],
[0,25,6,0,0,0,0,0,0,0,0,0,0,0,0,0,0,0],
[0,28,8,0,0,0,0,0,0,0,0,0,0,0,0,0,0,0],
[0,22,4,0,0,0,0,0,0,0,0,0,0,0,0,0,0,0],
[0,10,1,0,0,0,0,0,0,0,0,0,0,0,0,0,0,0],
[0,22,6,0,0,0,0,0,0,0,0,0,0,0,0,0,0,0],
[0,26,7,0,0,0,0,0,0,0,0,0,0,0,0,0,0,0],
[0,20,4,0,0,0,0,0,0,0,0,0,0,0,0,0,0,0],
[0,8,0,0,0,0,0,0,0,0,0,0,0,0,0,0,0,0],
[0,14,2,0,0,0,0,0,0,0,0,0,0,0,0,0,0,0],
[0,18,3,0,0,0,0,0,0,0,0,0,0,0,0,0,0,0],
[0,15,2,0,0,0,0,0,0,0,0,0,0,0,0,0,0,0],
[0,8,0,0,0,0,0,0,0,0,0,0,0,0,0,0,0,0],
[0,12,1,0,0,0,0,0,0,0,0,0,0,0,0,0,0,0],
[0,18,3,0,0,0,0,0,0,0,0,0,0,0,0,0,0,0],
[0,20,4,0,0,0,0,0,0,0,0,0,0,0,0,0,0,0],
[0,14,2,0,0,0,0,0,0,0,0,0,0,0,0,0,0,0],
[0,8,0,0,0,0,0,0,0,0,0,0,0,0,0,0,0,0],
[0,14,2,0,0,0,0,0,0,0,0,0,0,0,0,0,0,0],
[0,12,1,0,0,0,0,0,0,0,0,0,0,0,0,0,0,0]
];

let slitRows = [slit1, slit2, slit3, slit4, slit5, slit6, slit7];

// layout of the seven panels, in page pixels
let config = {
  plot: { width: 418 },
  rows: [{ top: 186, bottom: 640, binsLabel: 54 }, { top: 754, bottom: 1209, binsLabel: 52 }],
  lefts: [403, 1134, 1864, 2594.5, 403, 1134, 1864],
  rowIndex: [0, 0, 0, 0, 1, 1, 1],
  bar: { gap: [26, 26, 25, 25, 26, 26, 25], width: [27, 28, 27, 28, 27, 28, 27] },
  altLabelOffset: [97, 99, 87, 98, 98, 98, 86],
  barLabelOffset: [96, 93, 100, 63, 100, 94, 99]
};

let headingFont = '"Liberation Sans", sans-serif';

let svg = d3.select('#chart');
svg.append('defs').append('filter').attr('id', 'soften')
  .attr('x', 0).attr('y', 0).attr('width', 1).attr('height', 1)
  .append('feGaussianBlur').attr('stdDeviation', 0.8);

function minusSign(text) {
  return text.replace('-', '\u2212');
}

// page headings and the two red arrows
function drawAnnotations() {
  svg.append('text')
    .attr('x', 733).attr('y', 96)
    .attr('textLength', 1255).attr('lengthAdjust', 'spacingAndGlyphs')
    .style('font-family', headingFont)
    .style('font-size', '70px').style('fill', '#000')
    .text('(C) Perturbed signal minus background');

  svg.append('text')
    .attr('transform', 'translate(127,648) rotate(-90)')
    .attr('textLength', 533).attr('lengthAdjust', 'spacingAndGlyphs')
    .style('font-family', headingFont)
    .style('font-size', '57px').style('fill', '#000')
    .text('Altitude (80-140 km)');

  svg.append('text')
    .attr('x', 14).attr('y', 719)
    .attr('textLength', 336).attr('lengthAdjust', 'spacingAndGlyphs')
    .style('font-family', headingFont)
    .style('font-size', '62px').style('fill', '#000')
    .text('Bins (0.5 nm)');

  let red = svg.append('g')
    .attr('fill', 'none').attr('stroke', '#fe0000')
    .attr('stroke-width', 10).attr('stroke-linejoin', 'miter');
  red.append('path').attr('d', 'M201,636V150');
  red.append('path').attr('d', 'M183,184L201,146L219,184').attr('stroke-linecap', 'round');
  red.append('path').attr('d', 'M41,764.5H238');
  red.append('path').attr('d', 'M206,745L240,764.5L206,784').attr('stroke-linecap', 'round');
}

function drawPanel(i) {
  let row = config.rows[config.rowIndex[i]];
  let left = config.lefts[i];
  let width = config.plot.width;
  let height = row.bottom - row.top;

  let plot = svg.append('g')
    .attr('class', 'panel')
    .attr('transform', 'translate(' + left + ',' + row.top + ')');

  let xx = d3.scaleLinear().domain([18, 36]).range([0, width]);
  let yy = d3.scaleLinear()
    .domain([altitudeBottoms[i], altitudeTops[i]])
    .range([height, 0]);
  let color = d3.scaleSequential(d3.interpolateViridis)
    .domain([colorMins[i], colorMaxs[i]]);

  // heatmap cells
  let unit = rowUnits[i];
  let cells = [];
  slitRows[i].forEach(function(values, r) {
    values.forEach(function(v, c) {
      cells.push({ bin: bins[c], row: r, value: v * unit });
    });
  });

  plot.append('g').attr('filter', 'url(#soften)')
    .attr('shape-rendering', 'crispEdges')
    .selectAll('rect').data(cells).join('rect')
    .attr('x', d => xx(d.bin))
    .attr('y', d => yy(altitudeBottoms[i] + d.row + 1))
    .attr('width', d => xx(d.bin + 1) - xx(d.bin))
    .attr('height', d => yy(altitudeBottoms[i] + d.row) - yy(altitudeBottoms[i] + d.row + 1))
    .attr('fill', d => color(d.value));

  // frame
  plot.append('rect')
    .attr('width', width).attr('height', height)
    .attr('fill', 'none').attr('stroke', '#222').attr('stroke-width', 1.3);

  // axes
  let xAxis = d3.axisBottom(xx)
    .tickValues(binTicks).tickFormat(d3.format('d'))
    .tickSize(8).tickPadding(8);
  let gx = plot.append('g')
    .attr('transform', 'translate(0,' + height + ')')
    .call(xAxis);
  let yAxis = d3.axisLeft(yy)
    .tickValues(altitudeLabels[i].map(Number))
    .tickFormat((d, k) => altitudeLabels[i][k])
    .tickSize(8).tickPadding(8);
  let gy = plot.append('g').call(yAxis);

  [gx, gy].forEach(function(g) {
    g.select('.domain').remove();
    g.selectAll('line').attr('stroke', '#222').attr('stroke-width', 1.2);
    g.selectAll('text').style('font-size', '16.5px').attr('fill', '#222');
  });

  plot.append('text')
    .attr('x', width / 2).attr('y', -10)
    .attr('text-anchor', 'middle')
    .attr('textLength', 123).attr('lengthAdjust', 'spacingAndGlyphs')
    .style('font-size', '27px')
    .text(slitTitles[i]);

  plot.append('text')
    .attr('x', width / 2).attr('y', height + row.binsLabel)
    .attr('text-anchor', 'middle')
    .attr('textLength', 141).attr('lengthAdjust', 'spacingAndGlyphs')
    .style('font-size', '25px')
    .text('CCD Bins');

  plot.append('text')
    .attr('transform', 'translate(' + (-config.altLabelOffset[i]) + ',' + (height / 2) + ') rotate(-90)')
    .attr('text-anchor', 'middle')
    .attr('textLength', 165).attr('lengthAdjust', 'spacingAndGlyphs')
    .style('font-size', '24px')
    .text('Altitude (km)');

  drawColorbar(plot, i, width, height, color);
}

function drawColorbar(plot, i, width, height, color) {
  let barX = width + config.bar.gap[i];
  let barW = config.bar.width[i];
  let bar = plot.append('g').attr('transform', 'translate(' + barX + ',0)');

  let cy = d3.scaleLinear()
    .domain([colorMins[i], colorMaxs[i]])
    .range([height, 0]);

  let levels = d3.range(256).map(k => colorMins[i] + (colorMaxs[i] - colorMins[i]) * k / 255);
  bar.selectAll('rect').data(levels).join('rect')
    .attr('x', 0).attr('width', barW)
    .attr('y', (d, k) => height * (255 - k) / 256)
    .attr('height', height / 256 + 0.5)
    .attr('fill', d => color(d));

  bar.append('rect')
    .attr('width', barW).attr('height', height)
    .attr('fill', 'none').attr('stroke', '#222').attr('stroke-width', 1.2);

  let digits = tickDigits[i];
  let axis = d3.axisRight(cy)
    .tickValues(colorTicks[i])
    .tickFormat(d => minusSign(d.toFixed(digits)))
    .tickSize(7).tickPadding(9);
  let g = bar.append('g').attr('transform', 'translate(' + barW + ',0)').call(axis);
  g.select('.domain').remove();
  g.selectAll('line').attr('stroke', '#222').attr('stroke-width', 1.2);
  g.selectAll('text').style('font-size', '25.5px').attr('fill', '#161616');

  bar.append('text')
    .attr('x', barW - 2).attr('y', -6)
    .attr('text-anchor', 'end')
    .attr('textLength', 54).attr('lengthAdjust', 'spacingAndGlyphs')
    .style('font-size', '24px')
    .text(colorExponents[i]);

  bar.append('text')
    .attr('transform', 'translate(' + (barW + config.barLabelOffset[i]) + ',' + (height / 2) + ') rotate(-90)')
    .attr('text-anchor', 'middle')
    .attr('textLength', 151).attr('lengthAdjust', 'spacingAndGlyphs')
    .style('font-size', '25px')
    .text('photons/sec');
}

drawAnnotations();
slitTitles.forEach((t, i) => drawPanel(i));

</script>
</body>
</html>
